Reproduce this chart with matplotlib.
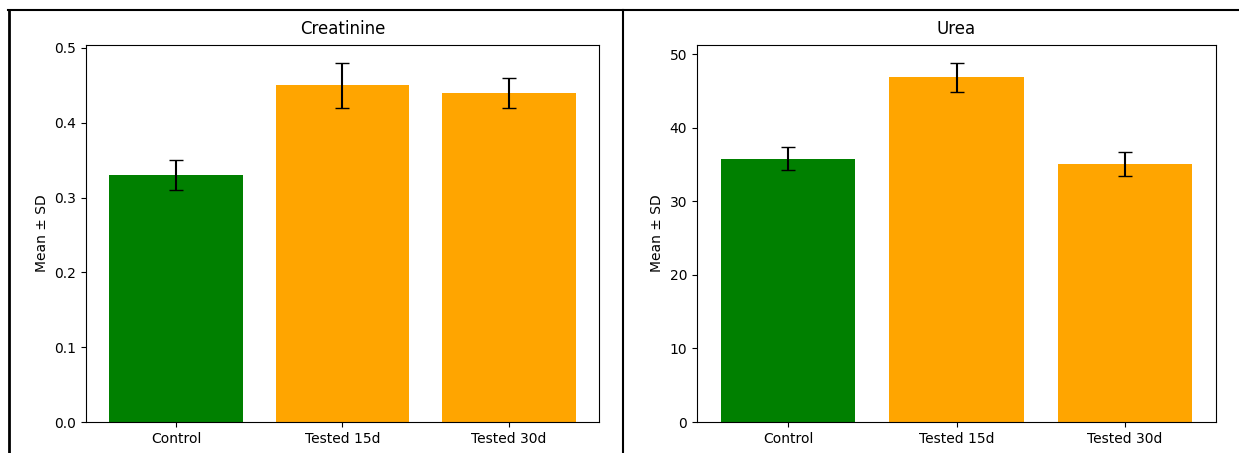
import matplotlib
matplotlib.use("Agg")
import matplotlib.pyplot as plt
from matplotlib.lines import Line2D

# group labels and bar colours
groups = ["Control", "Tested 15d", "Tested 30d"]
bar_colors = ["green", "orange", "orange"]

# Creatinine mean and SD
creat_mean = [0.33, 0.45, 0.44]
creat_sd = [0.02, 0.03, 0.02]

# Urea mean and SD
urea_mean = [35.8, 46.9, 35.1]
urea_sd = [1.55, 1.95, 1.65]

fig = plt.figure(figsize=(12.39, 4.53), dpi=100)

W, H = 1239.0, 453.0
ax1 = fig.add_axes([86 / W, 31 / H, 513 / W, 377 / H])
ax2 = fig.add_axes([697 / W, 31 / H, 519 / W, 377 / H])

for ax, means, sds, title in [(ax1, creat_mean, creat_sd, "Creatinine"),
                              (ax2, urea_mean, urea_sd, "Urea")]:
    ax.bar(groups, means, yerr=sds, color=bar_colors, capsize=5)
    ax.set_title(title, fontsize=12, pad=8)
    ax.set_ylabel("Mean \u00b1 SD")

# table borders around the two panels
fig.add_artist(Line2D([8 / W, 1239 / W], [1 - 10 / H, 1 - 10 / H], color="black", lw=1.5))
fig.add_artist(Line2D([9 / W, 9 / W], [0, 1 - 10 / H], color="black", lw=2))
fig.add_artist(Line2D([623 / W, 623 / W], [0, 1 - 10 / H], color="black", lw=1.5))

fig.savefig("out.png", dpi=100)
